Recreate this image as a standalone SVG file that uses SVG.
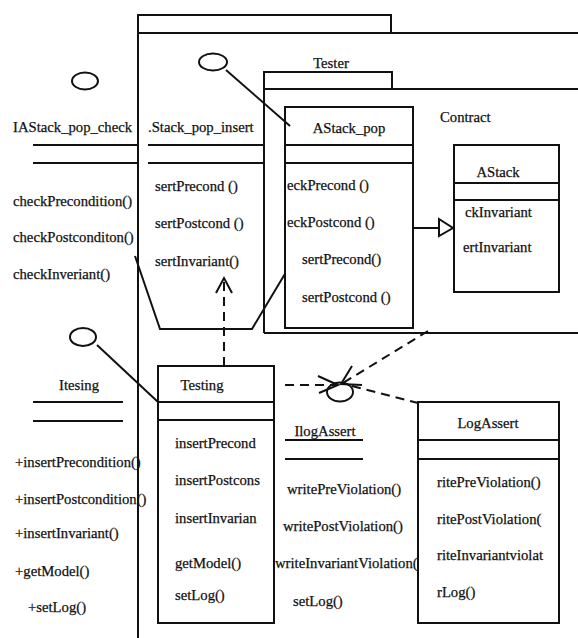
<svg xmlns="http://www.w3.org/2000/svg" width="578" height="638" viewBox="0 0 578 638">
<style>
text{font-family:"Liberation Serif","Times New Roman",serif;font-size:14.7px;fill:#111;stroke:#111;stroke-width:0.25}
.ln{stroke:#111;stroke-width:2;fill:none}
.box{stroke:#111;stroke-width:2;fill:#fff}
.dash{stroke:#111;stroke-width:2;fill:none;stroke-dasharray:9 6}
.mid{text-anchor:middle}
</style>
<rect width="578" height="638" fill="#fff"/>
<g id="pkg-outer">
<path class="ln" d="M138,638 V15 H391 V33 M138,33 H578"/>
</g>
<g id="pkg-tester">
<path class="ln" d="M264,333 V72 H392 V89 M264,89 H578 M264,333 H578"/>
<text x="331" y="68" class="mid">Tester</text>
</g>
<g id="contract-label"><text x="440" y="122">Contract</text></g>
<g id="IAStack_pop_check">
<ellipse class="ln" cx="85" cy="81" rx="13" ry="8.5"/>
<text x="13" y="132">IAStack_pop_check</text>
<path class="ln" d="M33,145 H138 M33,163 H138"/>
<text x="13" y="206">checkPrecondition()</text>
<text x="13" y="242">checkPostconditon()</text>
<text x="13" y="279">checkInveriant()</text>
</g>
<g id="IAStack_pop_insert">
<ellipse class="ln" cx="213" cy="62" rx="14" ry="8.5"/>
<text x="148" y="132">.Stack_pop_insert</text>
<path class="ln" d="M148,145 H264 M148,163 H264"/>
<text x="155" y="191">sertPrecond ()</text>
<text x="155" y="228">sertPostcond ()</text>
<text x="155" y="266">sertInvariant()</text>
<path class="ln" d="M135,256 L160,329 H252 L307,237"/>
</g>
<g id="AStack_pop">
<rect class="box" x="285" y="107" width="128" height="221"/>
<path class="ln" d="M285,145 H413 M285,163 H413"/>
<text x="349" y="133" class="mid">AStack_pop</text>
<text x="287" y="190">eckPrecond ()</text>
<text x="287" y="227">eckPostcond ()</text>
<text x="302" y="264">sertPrecond()</text>
<text x="302" y="302">sertPostcond ()</text>
</g>
<g id="AStack">
<rect class="box" x="454" y="145" width="105" height="147"/>
<path class="ln" d="M454,183 H559 M454,200 H559"/>
<text x="498" y="177" class="mid">AStack</text>
<text x="465" y="217">ckInvariant</text>
<text x="463" y="252">ertInvariant</text>
</g>
<g id="Itesing">
<ellipse class="ln" cx="83" cy="337" rx="13" ry="9"/>
<text x="79" y="390" class="mid">Itesing</text>
<path class="ln" d="M33,402 H123 M33,421 H123"/>
<text x="15" y="467">+insertPrecondition()</text>
<text x="15" y="504">+insertPostcondition()</text>
<text x="15" y="538">+insertInvariant()</text>
<text x="15" y="576">+getModel()</text>
<text x="28" y="612">+setLog()</text>
</g>
<g id="Testing">
<rect class="box" x="158" y="366" width="116" height="257"/>
<path class="ln" d="M158,402 H274 M158,420 H274"/>
<text x="202" y="390" class="mid">Testing</text>
<text x="175" y="448">insertPrecond</text>
<text x="175" y="485">insertPostcons</text>
<text x="175" y="523">insertInvarian</text>
<text x="175" y="568">getModel()</text>
<text x="175" y="600">setLog()</text>
</g>
<g id="IlogAssert">
<ellipse class="ln" cx="340" cy="392" rx="13" ry="9.5"/>
<text x="325" y="436" class="mid">IlogAssert</text>
<path class="ln" d="M285,440 H363 M285,459 H363"/>
<text x="287" y="494">writePreViolation()</text>
<text x="283" y="531">writePostViolation()</text>
<text x="275" y="568">writeInvariantViolation()</text>
<text x="293" y="606">setLog()</text>
</g>
<g id="LogAssert">
<rect class="box" x="418" y="402" width="141" height="221"/>
<path class="ln" d="M418,440 H559 M418,459 H559"/>
<text x="488" y="428" class="mid">LogAssert</text>
<text x="437" y="487">ritePreViolation()</text>
<text x="437" y="524">ritePostViolation(</text>
<text x="437" y="560">riteInvariantviolat</text>
<text x="437" y="597">rLog()</text>
</g>
<g id="connectors">
<path class="ln" d="M226,70 L290,126"/>
<path class="ln" d="M97,345 L158,402"/>
<path class="ln" d="M413,228 H439"/>
<path class="box" d="M439,219 L453,228 L439,236 Z"/>
<path class="dash" d="M224,366 V280"/>
<path class="ln" d="M216,293 L224,278 L232,293"/>
<path class="dash" d="M285,385 H336"/>
<path class="ln" d="M318,376 L338,385 L319,393"/>
<path class="dash" d="M428,331 L343,383"/>
<path class="ln" d="M352,366 L341,384 L362,385"/>
<path class="dash" d="M352,386 L418,403"/>
</g>
</svg>
